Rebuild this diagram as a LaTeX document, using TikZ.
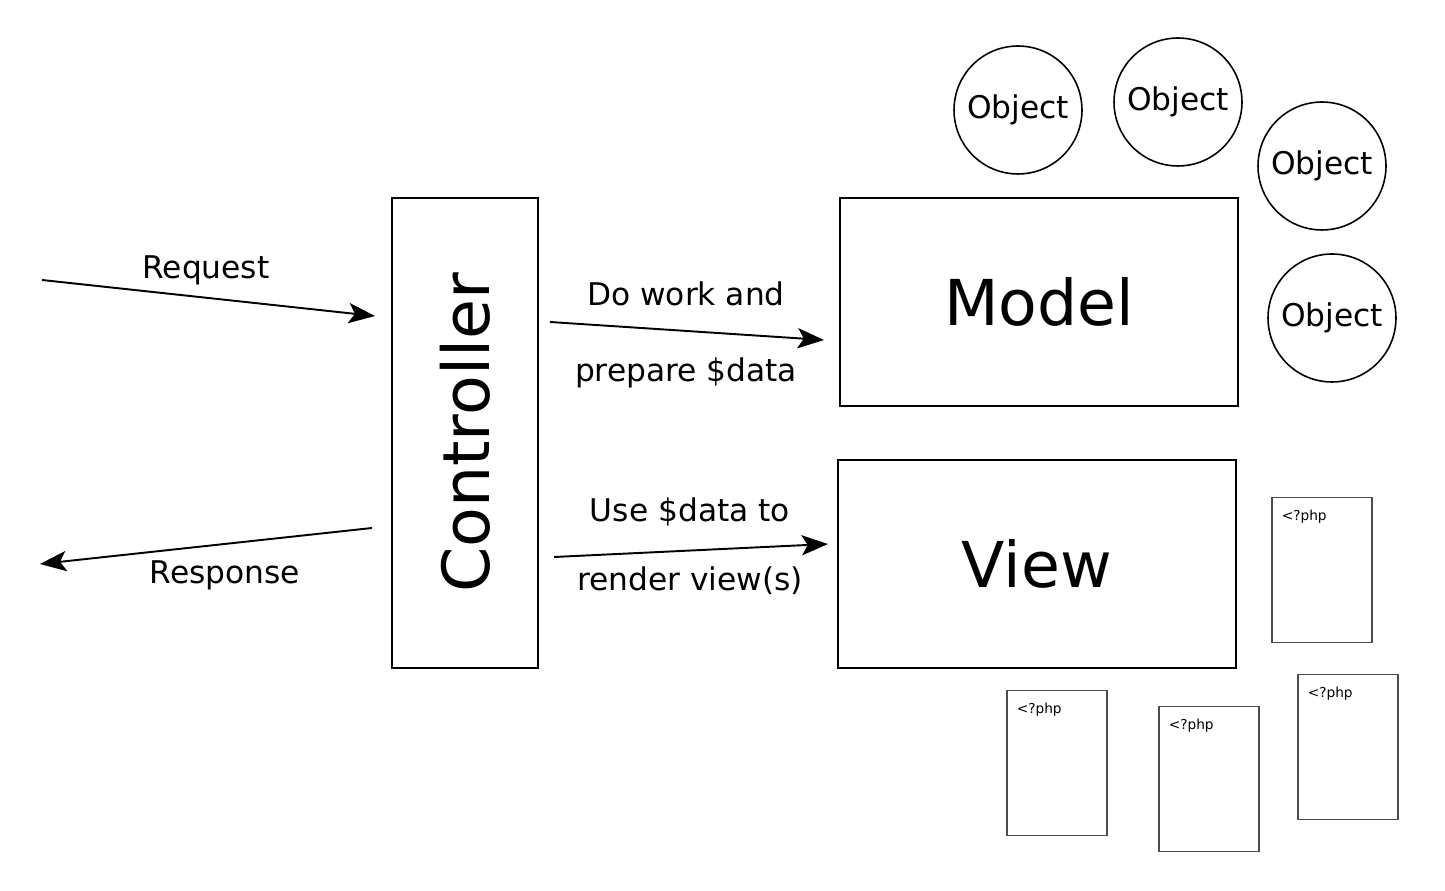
\documentclass[tikz,border=0pt]{standalone}
\usepackage{fontspec}
\setmainfont{DejaVu Sans}
\usetikzlibrary{positioning,arrows.meta}

\begin{document}
\begin{tikzpicture}[
    x=0.02cm, y=-0.02cm,
    block/.style={rectangle,draw,line width=1.1pt,inner sep=0pt,font=\fontsize{36}{40}\selectfont},
    obj/.style={circle,draw,line width=0.9pt,inner sep=0pt,minimum size=2.56cm,font=\fontsize{17.8}{20}\selectfont},
    page/.style={rectangle,draw=black!70,line width=0.6pt,inner sep=0pt,minimum width=2cm,minimum height=2.9cm},
    php/.style={inner sep=0pt,anchor=base west,font=\fontsize{7.8}{9}\selectfont},
    lbl/.style={inner sep=0pt,anchor=base,font=\fontsize{17.8}{20}\selectfont},
    flow/.style={line width=1.1pt,-{Stealth[length=15pt,width=11.5pt,inset=3.5pt]}}
    ]

    \useasboundingbox (0,0) rectangle (1445,891);

    % controller:
    \node (ctrl) at (465,433) [block,rotate=90,minimum width=9.4cm,minimum height=2.92cm,font=\fontsize{37}{40}\selectfont] {Controller};

    % model and view:
    \node (model) at (1039,302) [block,minimum width=7.96cm,minimum height=4.16cm] {Model};
    \node (view) at (1037,564) [block,minimum width=7.96cm,minimum height=4.16cm] {View};

    % objects:
    \foreach \n/\x/\y in {1/1018/110,2/1178/102,3/1322/166,4/1332/318}
    \node (o\n) at (\x,\y) [obj] {Object};

    % php pages:
    \foreach \n/\x/\y in {1/1322/570,2/1057/763,3/1209/779,4/1348/747}
    {
      \node (p\n) at (\x,\y) [page] {};
      \node (t\n) at ([xshift=0.2cm,yshift=-0.48cm]p\n.north west) [php] {<?php};
    }

    % free ends:
    \coordinate (reqa) at (42,280);
    \coordinate (reqb) at (375,316);
    \coordinate (resa) at (372,528);
    \coordinate (resb) at (40,564);
    \coordinate (worka) at (550,322);
    \coordinate (workb) at (824,340);
    \coordinate (renda) at (554,557);
    \coordinate (rendb) at (828,544);

    % labels:
    \node (req) at (206,279) [lbl] {Request};
    \node (res) at (225,584) [lbl] {Response};
    \node (work1) at (686,306) [lbl] {Do work and};
    \node (work2) at (686,382) [lbl] {prepare \$data};
    \node (rend1) at (690,522) [lbl] {Use \$data to};
    \node (rend2) at (690,591) [lbl] {render view(s)};

    % connections:
    \draw [flow] (reqa) -- (reqb);
    \draw [flow] (resa) -- (resb);
    \draw [flow] (worka) -- (workb);
    \draw [flow] (renda) -- (rendb);

\end{tikzpicture}
\end{document}
